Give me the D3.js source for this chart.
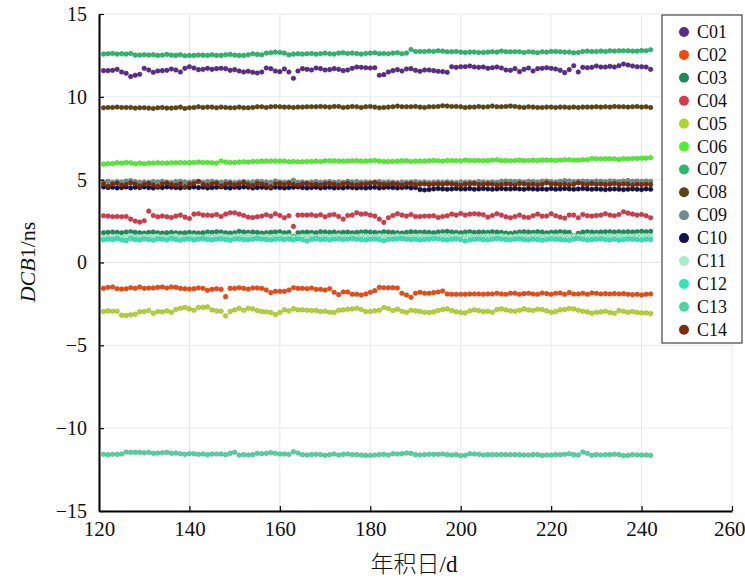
<!DOCTYPE html>
<html>
<head>
<meta charset="utf-8">
<script src="https://cdn.jsdelivr.net/npm/d3@7"></script>
<style>
  body { margin: 0; background: #fff; }
  svg { display: block; }
</style>
</head>
<body>
<svg id="chart" width="745" height="580"></svg>
<script>
// days of year 121..242, one estimate per day
const days = d3.range(121, 243);

const c01 = [11.58,11.58,11.6,11.66,11.5,11.42,11.22,11.3,11.36,11.72, 11.62,11.48,11.56,11.58,11.6,11.68,11.62,11.5,11.72,11.82,
  11.74,11.64,11.66,11.72,11.66,11.7,11.72,11.7,11.6,11.64, 11.56,11.5,11.54,11.48,11.44,11.5,11.74,11.7,11.56,11.52,
  11.68,11.5,11.12,11.56,11.7,11.66,11.62,11.74,11.7,11.62, 11.64,11.7,11.66,11.58,11.62,11.72,11.8,11.78,11.76,11.74,
  11.76,11.3,11.34,11.5,11.58,11.64,11.56,11.68,11.7,11.6, 11.54,11.62,11.62,11.58,11.54,11.52,11.48,11.82,11.78,11.82,
  11.82,11.86,11.8,11.78,11.8,11.72,11.76,11.8,11.74,11.62, 11.6,11.7,11.52,11.66,11.74,11.56,11.7,11.72,11.76,11.72,
  11.68,11.6,11.46,11.64,11.88,11.5,11.78,11.76,11.78,11.86, 11.8,11.8,11.84,11.8,11.88,11.98,11.92,11.86,11.82,11.82, 11.8,11.66];

const c02 = [-1.56,-1.5,-1.48,-1.58,-1.6,-1.58,-1.52,-1.56,-1.48,-1.56, -1.54,-1.54,-1.5,-1.48,-1.54,-1.48,-1.5,-1.56,-1.58,-1.6,
  -1.58,-1.54,-1.56,-1.68,-1.62,-1.58,-1.62,-2.06,-1.56,-1.56, -1.52,-1.56,-1.6,-1.54,-1.54,-1.56,-1.66,-1.82,-1.74,-1.74,
  -1.74,-1.66,-1.52,-1.56,-1.56,-1.58,-1.54,-1.62,-1.62,-1.66, -1.58,-1.8,-1.94,-1.78,-1.78,-1.92,-1.92,-1.96,-1.9,-1.8,
  -1.7,-1.5,-1.52,-1.52,-1.52,-1.54,-1.86,-1.96,-2.1,-1.86, -1.8,-1.86,-1.86,-1.82,-1.78,-1.72,-1.9,-1.92,-1.92,-1.92,
  -1.92,-1.9,-1.9,-1.9,-1.92,-1.9,-1.9,-1.86,-1.9,-1.92, -1.86,-1.86,-1.92,-1.88,-1.86,-1.9,-1.92,-1.84,-1.88,-1.92,
  -1.86,-1.84,-1.92,-1.82,-1.9,-1.9,-1.86,-1.92,-1.84,-1.86, -1.9,-1.88,-1.9,-1.88,-1.9,-1.88,-1.92,-1.94,-1.92,-1.96, -1.92,-1.9];

const c03 = [1.8,1.82,1.84,1.82,1.8,1.84,1.86,1.82,1.8,1.78, 1.82,1.84,1.8,1.78,1.8,1.82,1.8,1.78,1.8,1.82,
  1.8,1.78,1.8,1.84,1.82,1.86,1.84,1.8,1.78,1.8, 1.88,1.84,1.82,1.84,1.82,1.78,1.8,1.82,1.84,1.86,
  1.8,1.82,1.58,1.8,1.82,1.84,1.82,1.8,1.86,1.84, 1.82,1.84,1.8,1.82,1.84,1.8,1.82,1.84,1.86,1.84,
  1.82,1.8,1.86,1.84,1.82,1.8,1.78,1.82,1.86,1.84, 1.82,1.84,1.82,1.8,1.84,1.86,1.88,1.84,1.82,1.8,
  1.84,1.86,1.82,1.84,1.84,1.82,1.86,1.84,1.82,1.78, 1.76,1.8,1.84,1.86,1.84,1.82,1.86,1.84,1.8,1.82,
  1.84,1.86,1.84,1.82,1.62,1.76,1.84,1.86,1.84,1.82, 1.84,1.86,1.86,1.84,1.86,1.84,1.86,1.84,1.86,1.88, 1.86,1.88];

const c04 = [2.82,2.8,2.76,2.78,2.76,2.78,2.62,2.5,2.44,2.52, 3.1,2.84,2.76,2.8,2.76,2.72,2.8,2.86,2.74,2.66,
  2.92,2.94,2.86,2.86,2.84,2.9,2.78,2.92,3.0,3.0, 2.92,2.84,2.74,2.72,2.76,2.8,2.88,2.8,2.94,2.84,
  2.7,2.82,2.18,2.86,2.86,2.86,2.88,2.82,2.88,2.76, 2.86,2.9,2.78,2.62,2.84,2.86,3.0,2.92,2.94,2.86,
  2.8,2.62,2.42,2.7,2.84,2.94,2.86,2.8,2.9,2.78, 2.78,2.8,2.8,2.82,2.72,2.78,2.82,2.92,2.86,2.96,
  2.86,2.92,2.94,2.92,2.88,2.74,2.84,2.94,2.86,2.76, 2.7,2.78,2.86,2.74,2.72,2.82,2.92,2.8,2.8,2.94,
  2.82,2.74,2.68,2.86,2.86,2.7,2.9,2.82,2.8,2.84, 2.86,2.94,2.86,2.82,2.9,3.06,2.98,2.92,2.86,2.9, 2.82,2.7];

const c05 = [-2.96,-2.92,-2.94,-2.94,-3.18,-3.2,-3.16,-3.12,-2.98,-2.96, -2.9,-3.06,-2.96,-2.98,-2.92,-3.0,-2.84,-2.76,-2.72,-2.8,
  -2.88,-2.72,-2.7,-2.68,-2.86,-2.92,-2.94,-3.22,-2.96,-2.86, -2.76,-2.88,-2.76,-2.8,-2.9,-2.96,-2.98,-3.02,-3.14,-3.02,
  -2.86,-2.92,-2.8,-2.86,-2.86,-2.88,-2.9,-2.9,-2.96,-2.94, -3.0,-3.02,-2.88,-2.86,-2.82,-2.8,-2.76,-2.84,-2.96,-2.96,
  -2.92,-2.88,-2.72,-2.78,-2.9,-2.82,-2.94,-3.0,-2.88,-2.92, -2.96,-3.0,-3.02,-2.98,-2.9,-2.84,-2.8,-2.9,-2.98,-3.02,
  -3.04,-2.92,-2.86,-2.9,-2.96,-2.94,-3.0,-2.84,-2.8,-2.86, -2.92,-2.94,-2.88,-2.8,-2.86,-2.9,-2.82,-2.84,-2.92,-3.0,
  -2.96,-2.86,-2.84,-2.78,-2.8,-2.88,-2.94,-2.98,-3.06,-3.0, -2.98,-2.94,-3.02,-3.06,-2.9,-2.94,-3.0,-2.96,-3.02,-3.04, -3.04,-3.08];

const c06 = [5.94,5.96,5.98,6.02,6.0,6.04,6.02,5.96,6.0,5.96, 6.0,6.0,6.02,6.0,6.0,6.02,6.02,6.04,6.02,6.04,
  6.04,6.06,6.04,6.04,6.02,6.0,6.12,6.06,6.04,6.04, 6.06,6.08,6.06,6.1,6.1,6.12,6.12,6.12,6.12,6.12,
  6.12,6.08,6.1,6.08,6.08,6.1,6.1,6.12,6.1,6.14, 6.14,6.14,6.12,6.12,6.12,6.14,6.14,6.12,6.12,6.14,
  6.16,6.12,6.1,6.1,6.1,6.12,6.14,6.14,6.1,6.12, 6.12,6.12,6.14,6.16,6.14,6.12,6.16,6.16,6.14,6.14,
  6.18,6.16,6.16,6.16,6.14,6.16,6.18,6.2,6.16,6.16, 6.14,6.16,6.18,6.16,6.16,6.18,6.16,6.18,6.18,6.18,
  6.16,6.18,6.2,6.2,6.18,6.18,6.2,6.2,6.28,6.26, 6.26,6.26,6.26,6.26,6.22,6.26,6.26,6.28,6.28,6.3, 6.3,6.32];

const c07 = [12.58,12.6,12.62,12.58,12.6,12.58,12.62,12.52,12.52,12.54, 12.52,12.54,12.5,12.52,12.56,12.52,12.5,12.54,12.48,12.5,
  12.5,12.52,12.52,12.5,12.54,12.5,12.5,12.54,12.56,12.52, 12.5,12.5,12.54,12.6,12.56,12.54,12.64,12.66,12.7,12.68,
  12.64,12.54,12.58,12.6,12.58,12.6,12.62,12.58,12.6,12.64, 12.6,12.58,12.64,12.66,12.62,12.64,12.62,12.58,12.62,12.64,
  12.66,12.6,12.62,12.6,12.64,12.66,12.6,12.64,12.86,12.74, 12.74,12.74,12.76,12.74,12.78,12.76,12.72,12.72,12.74,12.7,
  12.68,12.7,12.7,12.68,12.68,12.7,12.72,12.7,12.76,12.72, 12.72,12.72,12.72,12.68,12.72,12.7,12.66,12.72,12.7,12.74,
  12.74,12.72,12.7,12.7,12.66,12.68,12.74,12.76,12.74,12.74, 12.76,12.74,12.78,12.76,12.78,12.78,12.78,12.76,12.76,12.8, 12.78,12.84];

const c08 = [9.34,9.36,9.36,9.38,9.36,9.36,9.36,9.32,9.34,9.34, 9.32,9.3,9.34,9.36,9.32,9.32,9.34,9.38,9.3,9.34,
  9.36,9.4,9.36,9.38,9.38,9.34,9.38,9.36,9.34,9.34, 9.38,9.34,9.34,9.36,9.4,9.4,9.36,9.4,9.42,9.4,
  9.38,9.38,9.36,9.38,9.38,9.4,9.4,9.4,9.42,9.4, 9.38,9.42,9.42,9.36,9.38,9.42,9.4,9.36,9.4,9.42,
  9.38,9.34,9.36,9.38,9.4,9.44,9.4,9.4,9.4,9.42, 9.38,9.36,9.4,9.4,9.42,9.46,9.44,9.42,9.42,9.4,
  9.36,9.38,9.38,9.42,9.38,9.4,9.44,9.4,9.4,9.42, 9.44,9.42,9.38,9.36,9.4,9.38,9.36,9.36,9.38,9.38,
  9.36,9.38,9.38,9.36,9.38,9.36,9.38,9.38,9.38,9.4, 9.38,9.4,9.38,9.42,9.4,9.4,9.38,9.4,9.42,9.38, 9.4,9.36];

const c09 = [4.86,4.9,4.84,4.88,4.86,4.92,4.94,4.88,4.84,4.86, 4.84,4.88,4.86,4.9,4.86,4.82,4.88,4.9,4.86,4.84,
  4.88,4.86,4.84,4.88,4.9,4.86,4.84,4.88,4.86,4.82, 4.86,4.88,4.84,4.86,4.9,4.88,4.86,4.84,4.92,4.86,
  4.84,4.86,4.96,4.84,4.86,4.82,4.86,4.88,4.84,4.86, 4.88,4.84,4.86,4.84,4.9,4.86,4.88,4.84,4.86,4.84,
  4.86,4.88,4.84,4.86,4.84,4.82,4.86,4.84,4.86,4.88, 4.84,4.86,4.82,4.84,4.86,4.84,4.86,4.84,4.82,4.86,
  4.84,4.86,4.84,4.88,4.86,4.84,4.86,4.84,4.9,4.92, 4.9,4.88,4.9,4.86,4.9,4.88,4.86,4.9,4.92,4.88,
  4.86,4.9,4.94,4.92,4.88,4.9,4.92,4.9,4.88,4.92, 4.9,4.88,4.92,4.9,4.88,4.92,4.94,4.9,4.92,4.9, 4.92,4.9];

const c10 = [4.56,4.52,4.54,4.5,4.52,4.56,4.5,4.54,4.52,4.56, 4.52,4.5,4.54,4.52,4.56,4.54,4.52,4.5,4.54,4.52,
  4.56,4.52,4.54,4.5,4.52,4.54,4.56,4.52,4.5,4.54, 4.52,4.56,4.54,4.5,4.52,4.54,4.52,4.5,4.54,4.52,
  4.5,4.52,4.54,4.56,4.52,4.5,4.52,4.54,4.5,4.52, 4.54,4.5,4.52,4.5,4.54,4.52,4.5,4.52,4.5,4.52,
  4.54,4.5,4.52,4.54,4.52,4.5,4.52,4.54,4.5,4.52, 4.4,4.38,4.4,4.44,4.46,4.44,4.42,4.44,4.46,4.44,
  4.44,4.46,4.42,4.44,4.46,4.44,4.42,4.44,4.46,4.44, 4.44,4.46,4.44,4.42,4.46,4.44,4.42,4.44,4.42,4.46,
  4.42,4.44,4.46,4.44,4.42,4.44,4.46,4.44,4.42,4.44, 4.42,4.4,4.42,4.44,4.42,4.4,4.42,4.44,4.42,4.4, 4.44,4.42];

const c11 = [1.5,1.52,1.54,1.58,1.52,1.56,1.62,1.54,1.56,1.6, 1.58,1.54,1.6,1.56,1.52,1.58,1.62,1.56,1.54,1.58,
  1.6,1.56,1.54,1.6,1.58,1.54,1.62,1.58,1.56,1.6, 1.56,1.58,1.62,1.56,1.54,1.58,1.6,1.56,1.58,1.62,
  1.58,1.6,1.54,1.56,1.6,1.58,1.62,1.56,1.58,1.6, 1.56,1.6,1.62,1.58,1.56,1.6,1.58,1.62,1.6,1.56,
  1.58,1.62,1.6,1.56,1.58,1.62,1.6,1.58,1.56,1.6, 1.62,1.58,1.6,1.56,1.6,1.62,1.58,1.6,1.62,1.58,
  1.6,1.62,1.58,1.56,1.6,1.62,1.6,1.58,1.62,1.6, 1.58,1.6,1.62,1.6,1.58,1.62,1.6,1.58,1.6,1.62,
  1.6,1.62,1.58,1.6,1.62,1.6,1.58,1.62,1.6,1.62, 1.6,1.58,1.62,1.6,1.62,1.6,1.58,1.6,1.62,1.6, 1.62,1.6];

const c12 = [1.36,1.4,1.38,1.44,1.36,1.32,1.44,1.38,1.36,1.42, 1.38,1.34,1.42,1.4,1.36,1.44,1.38,1.34,1.4,1.42,
  1.36,1.4,1.44,1.38,1.36,1.4,1.42,1.38,1.34,1.4, 1.42,1.38,1.36,1.4,1.44,1.4,1.38,1.36,1.4,1.42,
  1.38,1.4,1.36,1.42,1.38,1.3,1.4,1.44,1.38,1.4, 1.36,1.4,1.42,1.38,1.4,1.44,1.4,1.38,1.36,1.4,
  1.42,1.38,1.32,1.38,1.4,1.42,1.44,1.4,1.38,1.4, 1.36,1.38,1.4,1.44,1.42,1.38,1.36,1.4,1.42,1.38,
  1.3,1.36,1.4,1.42,1.38,1.36,1.4,1.44,1.4,1.38, 1.36,1.4,1.42,1.38,1.36,1.4,1.38,1.34,1.38,1.42,
  1.4,1.38,1.36,1.34,1.4,1.44,1.4,1.36,1.38,1.4, 1.42,1.38,1.36,1.4,1.34,1.38,1.42,1.4,1.38,1.36, 1.4,1.38];

const c13 = [-11.58,-11.6,-11.58,-11.58,-11.56,-11.44,-11.46,-11.46,-11.46,-11.48, -11.46,-11.52,-11.5,-11.48,-11.46,-11.52,-11.5,-11.54,-11.58,-11.54,
  -11.54,-11.58,-11.56,-11.6,-11.56,-11.56,-11.56,-11.6,-11.52,-11.46, -11.62,-11.6,-11.62,-11.6,-11.52,-11.54,-11.52,-11.48,-11.52,-11.56,
  -11.56,-11.58,-11.42,-11.5,-11.6,-11.62,-11.6,-11.58,-11.6,-11.64, -11.6,-11.56,-11.62,-11.58,-11.56,-11.6,-11.6,-11.62,-11.64,-11.64,
  -11.62,-11.6,-11.58,-11.62,-11.54,-11.56,-11.54,-11.5,-11.52,-11.6, -11.62,-11.6,-11.58,-11.58,-11.58,-11.56,-11.6,-11.62,-11.6,-11.66,
  -11.64,-11.54,-11.56,-11.58,-11.62,-11.6,-11.6,-11.6,-11.6,-11.6, -11.6,-11.6,-11.6,-11.62,-11.62,-11.6,-11.6,-11.64,-11.62,-11.62,
  -11.6,-11.6,-11.58,-11.54,-11.6,-11.62,-11.44,-11.52,-11.64,-11.6, -11.62,-11.6,-11.6,-11.58,-11.6,-11.66,-11.64,-11.6,-11.62,-11.62, -11.62,-11.64];

const c14 = [4.74,4.62,4.72,4.78,4.66,4.7,4.8,4.74,4.62,4.72, 4.76,4.68,4.6,4.74,4.78,4.7,4.66,4.74,4.58,4.72,
  4.76,4.9,4.7,4.66,4.74,4.78,4.62,4.72,4.76,4.68, 4.74,4.82,4.7,4.64,4.76,4.72,4.68,4.58,4.74,4.76,
  4.7,4.78,4.72,4.66,4.74,4.76,4.7,4.72,4.68,4.74, 4.76,4.72,4.66,4.74,4.78,4.7,4.68,4.72,4.74,4.76,
  4.82,4.74,4.7,4.72,4.76,4.72,4.68,4.74,4.76,4.7, 4.72,4.74,4.7,4.72,4.74,4.72,4.76,4.74,4.7,4.66,
  4.72,4.74,4.76,4.7,4.72,4.74,4.72,4.68,4.7,4.74, 4.72,4.68,4.76,4.74,4.7,4.72,4.68,4.72,4.8,4.74,
  4.72,4.7,4.74,4.68,4.72,4.8,4.74,4.7,4.76,4.72, 4.74,4.7,4.72,4.76,4.7,4.74,4.72,4.68,4.72,4.7, 4.72,4.7];

const names = ['C01','C02','C03','C04','C05','C06','C07','C08','C09','C10','C11','C12','C13','C14'];
const values = [c01,c02,c03,c04,c05,c06,c07,c08,c09,c10,c11,c12,c13,c14];
const colors = ['#5b2a8a','#f2480f','#1c8c5c','#d8384c','#b4d42a','#4cf22a','#27b96c',
                '#5a4612','#6e8c8c','#12124e','#a6eccb','#2fe6b6','#4fd4a2','#7c2c0a'];

const xTicks = [120,140,160,180,200,220,240,260];
const yTicks = [-15,-10,-5,0,5,10,15];

const svg = d3.select('#chart');
const serif = '"Liberation Serif", "DejaVu Serif", serif';

const xs = d3.scaleLinear().domain([120,260]).range([99,732]);
const ys = d3.scaleLinear().domain([-15,15]).range([511,14]);

// grid
const grid = svg.append('g');
grid.selectAll('line.gx').data(xTicks).enter().append('line')
    .attr('x1', d => xs(d)).attr('x2', d => xs(d))
    .attr('y1', ys(-15)).attr('y2', ys(15))
    .attr('stroke', '#e8e8e8').attr('stroke-width', 1);
grid.selectAll('line.gy').data(yTicks).enter().append('line')
    .attr('x1', xs(120)).attr('x2', xs(260))
    .attr('y1', d => ys(d)).attr('y2', d => ys(d))
    .attr('stroke', '#e8e8e8').attr('stroke-width', 1);

// points
values.forEach((series, k) => {
    const col = colors[k];
    svg.append('g')
        .selectAll('circle')
        .data(series)
        .enter()
        .append('circle')
        .attr('cx', (d,i) => xs(days[i]))
        .attr('cy', d => ys(d))
        .attr('r', 2.3)
        .attr('fill', col)
        .attr('stroke', d3.color(col).darker(0.7))
        .attr('stroke-width', 0.5);
});

// axes
const yAxis = svg.append('g')
    .attr('transform', `translate(${xs(120)},0)`)
    .call(d3.axisLeft(ys).tickValues(yTicks).tickSizeInner(-5).tickSizeOuter(0).tickPadding(12));
const xAxis = svg.append('g')
    .attr('transform', `translate(0,${ys(-15)})`)
    .call(d3.axisBottom(xs).tickValues(xTicks).tickSizeInner(-5).tickSizeOuter(0).tickPadding(10));

[yAxis, xAxis].forEach(ax => {
    ax.select('.domain').attr('stroke', '#000').attr('stroke-width', 2);
    ax.selectAll('.tick line').attr('stroke', '#000').attr('stroke-width', 1.2);
    ax.selectAll('.tick text').attr('fill', '#111').style('font-family', serif);
});
yAxis.selectAll('.tick text').style('font-size', '20px');
xAxis.selectAll('.tick text').style('font-size', '21px');
// keep the last label inside the page
xAxis.selectAll('.tick text').filter(d => d === 260).attr('text-anchor', 'end').attr('dx', '13');

// axis titles
svg.append('text')
    .attr('x', 414).attr('y', 572)
    .attr('text-anchor', 'middle')
    .style('font-size', '23px').attr('fill', '#111')
    .call(t => {
        t.append('tspan').style('font-family', '"Noto Sans CJK SC", sans-serif').style('font-weight', 300).text('年积日');
        t.append('tspan').style('font-family', serif).text('/d');
    });

svg.append('text')
    .attr('transform', 'translate(35,262) rotate(-90)')
    .attr('text-anchor', 'middle')
    .style('font-family', serif).style('font-size', '22px').attr('fill', '#111')
    .call(t => {
        t.append('tspan').style('font-style', 'italic').text('DCB');
        t.append('tspan').text('1/ns');
    });

// legend
const legend = svg.append('g');
legend.append('rect')
    .attr('x', 662).attr('y', 15).attr('width', 80).attr('height', 328)
    .attr('fill', '#fff').attr('stroke', '#444').attr('stroke-width', 1.2);
const rows = legend.selectAll('g.row').data(names).enter().append('g')
    .attr('transform', (d,i) => `translate(0,${32 + i * 22.9})`);
rows.append('circle').attr('cx', 684).attr('cy', 0).attr('r', 5)
    .attr('fill', (d,i) => colors[i]);
rows.append('text').attr('x', 697).attr('y', 6)
    .style('font-family', serif).style('font-size', '18px').attr('fill', '#111')
    .text(d => d);
</script>
</body>
</html>
